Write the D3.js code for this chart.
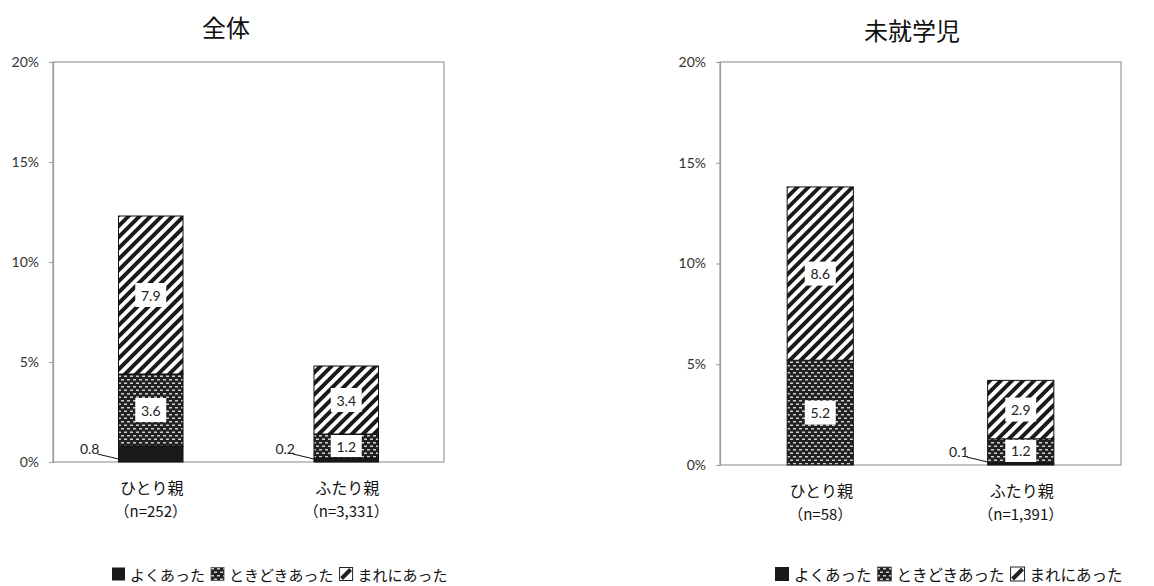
<!DOCTYPE html>
<html><head><meta charset="utf-8">
<script src="https://cdn.jsdelivr.net/npm/d3@7/dist/d3.min.js"></script>
<style>
html,body{margin:0;padding:0;background:#fff;}
svg{display:block;}
</style></head>
<body>
<svg id="chart" width="1154" height="586"></svg>
<script>
// ---------------- data ----------------
const categories = ["ひとり親", "ふたり親"];
const seriesNames = ["よくあった", "ときどきあった", "まれにあった"];
const yTicks = [0, 5, 10, 15, 20];

const titleAll = "全体";
const nAll = ["（n=252）", "（n=3,331）"];
const yokuAll = [0.8, 0.2];
const tokidokiAll = [3.6, 1.2];
const mareAll = [7.9, 3.4];

const titlePre = "未就学児";
const nPre = ["（n=58）", "（n=1,391）"];
const yokuPre = [0, 0.1];
const tokidokiPre = [5.2, 1.2];
const marePre = [8.6, 2.9];

// ---------------- drawing ----------------
const svg = d3.select("#chart");
const defs = svg.append("defs");

// pattern: ときどきあった (dark with light dashes)
const pDot = defs.append("pattern").attr("id", "pDot").attr("patternUnits", "userSpaceOnUse")
  .attr("width", 6).attr("height", 7);
pDot.append("rect").attr("width", 6).attr("height", 7).attr("fill", "#222");
[[1,1],[4,4.5],[-2,4.5]].forEach(([x,y]) => {
  pDot.append("rect").attr("x", x).attr("y", y).attr("width", 3).attr("height", 1.5).attr("fill", "#cfcfcf");
});
// pattern: まれにあった (diagonal stripes)
const pStr = defs.append("pattern").attr("id", "pStr").attr("patternUnits", "userSpaceOnUse")
  .attr("width", 7.8).attr("height", 10).attr("patternTransform", "rotate(45)");
pStr.append("rect").attr("width", 7.8).attr("height", 10).attr("fill", "#fff");
pStr.append("rect").attr("width", 3.9).attr("height", 10).attr("fill", "#1a1a1a");

const fills = ["#1a1a1a", "url(#pDot)", "url(#pStr)"];
const numFont = "Lato, 'Open Sans', sans-serif";
const jpFont = "'Noto Sans CJK JP', sans-serif";

function panel(cfg) {
  const { x0, x1, y0, y1, title, titleX, titleY, nLabels, series, legendX, legendY, legendFont, legendSq } = cfg;
  const g = svg.append("g");
  const x = d3.scaleBand().domain(categories).range([x0, x1]).paddingInner(0.67).paddingOuter(0.335);
  const y = d3.scaleLinear().domain([0, 20]).range([y1, y0]);

  // title
  g.append("text").attr("x", titleX).attr("y", titleY).attr("text-anchor", "middle")
    .attr("dominant-baseline", "central").attr("font-family", jpFont).attr("font-size", 24)
    .attr("fill", "#111").text(title);

  // plot border
  g.append("rect").attr("x", x0).attr("y", y0).attr("width", x1 - x0).attr("height", y1 - y0)
    .attr("fill", "none").attr("stroke", "#9a9a9a").attr("stroke-width", 1.2);

  // y axis
  const ax = d3.axisLeft(y).tickValues(yTicks).tickFormat(d => d + "%").tickSize(4).tickPadding(10);
  const ag = g.append("g").attr("transform", `translate(${x0},0)`).call(ax);
  ag.select(".domain").attr("stroke", "#9a9a9a").attr("stroke-width", 1.2);
  ag.selectAll(".tick line").attr("stroke", "#9a9a9a");
  ag.selectAll(".tick text").attr("font-family", numFont).attr("font-size", 14).attr("fill", "#333");

  // stacks
  const rows = categories.map((c, i) => {
    const o = { cat: c };
    seriesNames.forEach((s, k) => o[s] = series[k][i]);
    return o;
  });
  const stack = d3.stack().keys(seriesNames)(rows);
  stack.forEach((layer, k) => {
    layer.forEach((d, i) => {
      const v = d[1] - d[0];
      if (v <= 0) return;
      const bx = x(categories[i]), bw = x.bandwidth();
      g.append("rect").attr("x", bx).attr("y", y(d[1])).attr("width", bw)
        .attr("height", y(d[0]) - y(d[1])).attr("fill", fills[k])
        .attr("stroke", "#111").attr("stroke-width", 1);
    });
  });
  // labels
  stack.forEach((layer, k) => {
    layer.forEach((d, i) => {
      const v = d[1] - d[0];
      if (v <= 0) return;
      const bx = x(categories[i]), bw = x.bandwidth();
      const lbl = d3.format(".1f")(series[k][i]);
      if (k === 0) {
        g.append("line").attr("x1", bx - 21).attr("y1", y(0) - 8).attr("x2", bx).attr("y2", y(0) - 3)
          .attr("stroke", "#111").attr("stroke-width", 1);
        g.append("text").attr("x", bx - 19).attr("y", y(0) - 14).attr("text-anchor", "end")
          .attr("dominant-baseline", "central").attr("font-family", numFont).attr("font-size", 14)
          .attr("fill", "#222").text(lbl);
      } else {
        const cy = (y(d[0]) + y(d[1])) / 2, cx = bx + bw / 2;
        const bh = Math.min(24, y(d[0]) - y(d[1]) - 2);
        g.append("rect").attr("x", cx - 15.5).attr("y", cy - bh / 2).attr("width", 31).attr("height", bh)
          .attr("fill", "#fff");
        g.append("text").attr("x", cx).attr("y", cy).attr("text-anchor", "middle")
          .attr("dominant-baseline", "central").attr("font-family", numFont).attr("font-size", 14)
          .attr("fill", "#222").text(lbl);
      }
    });
  });

  // x labels
  categories.forEach((c, i) => {
    const cx = x(c) + x.bandwidth() / 2;
    g.append("text").attr("x", cx + 1).attr("y", y1 + 25).attr("text-anchor", "middle")
      .attr("dominant-baseline", "central").attr("font-family", jpFont).attr("font-size", 16)
      .attr("fill", "#111").text(c);
    g.append("text").attr("x", cx).attr("y", y1 + 48).attr("text-anchor", "middle")
      .attr("dominant-baseline", "central").attr("font-family", jpFont).attr("font-size", 15)
      .attr("fill", "#111").text(nLabels[i]);
  });

  // legend
  let lx = legendX;
  seriesNames.forEach((s, k) => {
    const sq = legendSq;
    const sy = legendY - sq / 2;
    if (k === 0) {
      g.append("rect").attr("x", lx).attr("y", sy).attr("width", sq).attr("height", sq).attr("fill", "#1a1a1a");
    } else if (k === 1) {
      g.append("rect").attr("x", lx).attr("y", sy).attr("width", sq).attr("height", sq)
        .attr("fill", "url(#pDot)").attr("stroke", "#555").attr("stroke-width", 0.8);
    } else {
      g.append("rect").attr("x", lx).attr("y", sy).attr("width", sq).attr("height", sq)
        .attr("fill", "#fff").attr("stroke", "#222").attr("stroke-width", 1);
      g.append("line").attr("x1", lx + 2).attr("y1", sy + sq - 2).attr("x2", lx + sq - 2).attr("y2", sy + 2)
        .attr("stroke", "#222").attr("stroke-width", 4);
    }
    lx += sq + 5;
    const t = g.append("text").attr("x", lx).attr("y", legendY).attr("dominant-baseline", "central")
      .attr("font-family", jpFont).attr("font-size", legendFont).attr("fill", "#111").text(s);
    lx += t.node().getComputedTextLength() + 6;
  });
}

panel({ x0: 53, x1: 444, y0: 62, y1: 462, title: titleAll, titleX: 226, titleY: 26,
  nLabels: nAll, series: [yokuAll, tokidokiAll, mareAll], legendX: 112, legendY: 574, legendFont: 15, legendSq: 13 });
panel({ x0: 720, x1: 1121, y0: 62, y1: 465, title: titlePre, titleX: 912, titleY: 29,
  nLabels: nPre, series: [yokuPre, tokidokiPre, marePre], legendX: 775, legendY: 574, legendFont: 15.5, legendSq: 14 });
</script>
</body></html>
